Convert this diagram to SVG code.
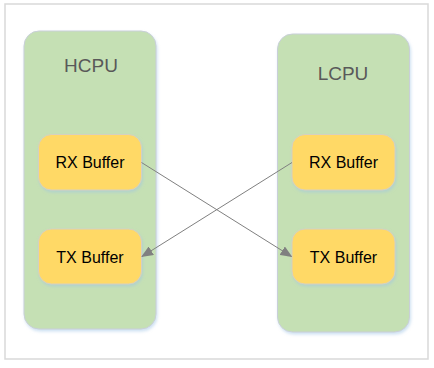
<svg xmlns="http://www.w3.org/2000/svg" width="434" height="368" viewBox="0 0 434 368">
<defs>
<filter id="sh" x="-20%" y="-20%" width="140%" height="140%">
<feDropShadow dx="1" dy="2" stdDeviation="1.5" flood-color="#9dc3e6" flood-opacity="0.5"/>
</filter>
<marker id="arr" markerWidth="12" markerHeight="10" refX="11" refY="5" orient="auto" markerUnits="userSpaceOnUse">
<path d="M0,0 L12,5 L0,10 Z" fill="#808080"/>
</marker>
<style>
.cpu{fill:#c5e0b4;stroke:#c9cfd8;stroke-width:1;filter:url(#sh)}
.buf{fill:#ffd966;stroke:#d6d0c0;stroke-width:1;filter:url(#sh)}
.title{font-family:"Liberation Sans",Arial,sans-serif;font-size:19px;fill:#595959;text-anchor:middle}
.lbl{font-family:"Liberation Sans",Arial,sans-serif;font-size:16px;fill:#000;text-anchor:middle}
.conn{stroke:#808080;stroke-width:1;fill:none;marker-end:url(#arr)}
</style>
</defs>
<rect x="0" y="0" width="434" height="368" fill="#fff"/>
<rect x="5" y="4" width="423" height="355" fill="#fff" stroke="#d9d9d9" stroke-width="1.5"/>
<g id="hcpu">
<rect class="cpu" x="24" y="31" width="132" height="298" rx="15"/>
<text class="title" x="91" y="72">HCPU</text>
</g>
<g id="lcpu">
<rect class="cpu" x="277.5" y="34" width="132" height="298" rx="15"/>
<text class="title" x="343" y="80">LCPU</text>
</g>
<g id="hcpu-rx">
<rect class="buf" x="38.5" y="134.5" width="103" height="55.5" rx="13"/>
<text class="lbl" x="90" y="168">RX Buffer</text>
</g>
<g id="hcpu-tx">
<rect class="buf" x="38.5" y="229" width="103" height="55" rx="13"/>
<text class="lbl" x="90" y="262.5">TX Buffer</text>
</g>
<g id="lcpu-rx">
<rect class="buf" x="292" y="134.5" width="103" height="55.5" rx="13"/>
<text class="lbl" x="343.5" y="168">RX Buffer</text>
</g>
<g id="lcpu-tx">
<rect class="buf" x="292" y="229" width="103" height="55" rx="13"/>
<text class="lbl" x="343.5" y="262.5">TX Buffer</text>
</g>
<g id="connectors">
<line class="conn" x1="141.5" y1="162.5" x2="291.5" y2="256.5"/>
<line class="conn" x1="292" y1="162.5" x2="142" y2="256.5"/>
</g>
</svg>
